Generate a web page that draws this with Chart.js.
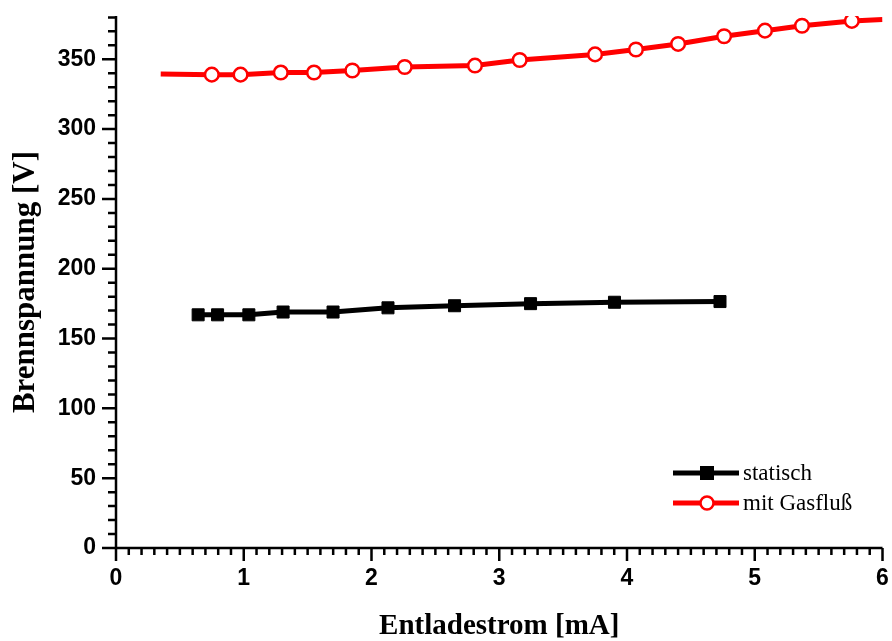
<!DOCTYPE html>
<html>
<head>
<meta charset="utf-8">
<script src="https://cdn.jsdelivr.net/npm/chart.js@4/dist/chart.umd.min.js"></script>
<style>
  body { margin: 0; background: #fff; }
</style>
</head>
<body>
<canvas id="myChart" width="892" height="641"></canvas>
<script>
// Entladestrom [mA] / Brennspannung [V]
const staticCurrent = [0.643, 0.795, 1.04, 1.308, 1.699, 2.129, 2.65, 3.245, 3.902, 4.728];
const staticVoltage = [167, 167, 167, 169, 169, 172, 173.5, 175, 176, 176.5];

const flowCurrent = [0.35, 0.75, 0.975, 1.29, 1.55, 1.85, 2.26, 2.81, 3.16, 3.75, 4.07, 4.4, 4.76, 5.08, 5.37, 5.76, 6.0];
const flowVoltage = [339.5, 339, 339, 340.5, 340.5, 342, 344.5, 345.5, 349.5, 353.5, 357, 361, 366.5, 370.5, 374, 377.5, 378.5];

const xTicks = [0, 1, 2, 3, 4, 5, 6];
const yTicks = [0, 50, 100, 150, 200, 250, 300, 350];

const toPoints = (xs, ys) => xs.map((v, i) => ({x: v, y: ys[i]}));

// minor ticks + axis lines + legend, drawn like the Origin plot
const originStyle = {
    id: 'originStyle',
    afterDraw(chart) {
        const {ctx, chartArea: a, scales: {x, y}} = chart;
        ctx.save();
        ctx.strokeStyle = '#000';
        ctx.lineWidth = 2.5;
        ctx.beginPath();
        ctx.moveTo(a.left, a.top);
        ctx.lineTo(a.left, a.bottom);
        ctx.lineTo(a.right, a.bottom);
        for (let i = 0; i <= 60; i++) {
            const px = x.getPixelForValue(i / 10);
            ctx.moveTo(px, a.bottom);
            ctx.lineTo(px, a.bottom + (i % 10 === 0 ? 13 : 7));
        }
        for (let v = 0; v <= 380; v += 10) {
            const py = y.getPixelForValue(v);
            ctx.moveTo(a.left, py);
            ctx.lineTo(a.left - (v % 50 === 0 ? 14 : 8), py);
        }
        ctx.stroke();

        // legend
        const lx = 673, rows = [473, 503];
        ctx.font = '23px "Liberation Serif"';
        ctx.textBaseline = 'middle';
        chart.data.datasets.forEach((ds, i) => {
            const ly = rows[i];
            ctx.strokeStyle = ds.borderColor;
            ctx.lineWidth = 5;
            ctx.beginPath();
            ctx.moveTo(lx, ly);
            ctx.lineTo(lx + 66, ly);
            ctx.stroke();
            const cx = lx + 34;
            if (ds.pointStyle === 'rect') {
                ctx.fillStyle = ds.pointBackgroundColor;
                ctx.fillRect(cx - 7, ly - 7, 14, 14);
            } else {
                ctx.fillStyle = '#fff';
                ctx.lineWidth = 2.5;
                ctx.beginPath();
                ctx.arc(cx, ly, 6.5, 0, Math.PI * 2);
                ctx.fill();
                ctx.stroke();
            }
            ctx.fillStyle = '#000';
            ctx.fillText(ds.label, lx + 70, ly + 1);
        });
        ctx.restore();
    }
};

new Chart(document.getElementById('myChart'), {
    type: 'scatter',
    data: {
        datasets: [{
            label: 'statisch',
            data: toPoints(staticCurrent, staticVoltage),
            showLine: true,
            borderColor: '#000',
            borderWidth: 5,
            pointStyle: 'rect',
            pointRadius: 8.5,
            pointBorderWidth: 1,
            pointBackgroundColor: '#000',
            pointBorderColor: '#000',
        }, {
            label: 'mit Gasfluß',
            data: toPoints(flowCurrent, flowVoltage),
            showLine: true,
            borderColor: '#ff0000',
            borderWidth: 5,
            pointStyle: 'circle',
            pointRadius: flowCurrent.map((v, i) => (i === 0 || i === flowCurrent.length - 1) ? 0 : 6.8),
            pointBorderWidth: 2.5,
            pointBackgroundColor: '#fff',
            pointBorderColor: '#ff0000',
        }]
    },
    options: {
        responsive: false,
        animation: false,
        layout: {
            padding: {left: 0, right: 9, top: 16, bottom: 0}
        },
        scales: {
            x: {
                type: 'linear',
                min: 0,
                max: 6,
                afterFit: s => { s.height = 93; s.paddingLeft = 0; s.paddingRight = 0; },
                afterBuildTicks: s => { s.ticks = xTicks.map(v => ({value: v})); },
                grid: {display: false, drawTicks: false},
                border: {display: false},
                ticks: {
                    color: '#000',
                    padding: 17,
                    maxRotation: 0,
                    font: {family: 'Liberation Sans', weight: 'bold', size: 23}
                },
                title: {
                    display: true,
                    text: 'Entladestrom [mA]',
                    color: '#000',
                    padding: 0,
                    font: {family: 'Liberation Serif', weight: 'bold', size: 29, lineHeight: 1}
                }
            },
            y: {
                min: 0,
                max: 381,
                afterFit: s => { s.width = 116; s.paddingTop = 0; s.paddingBottom = 0; },
                afterBuildTicks: s => { s.ticks = yTicks.map(v => ({value: v})); },
                grid: {display: false, drawTicks: false},
                border: {display: false},
                ticks: {
                    color: '#000',
                    padding: 20,
                    font: {family: 'Liberation Sans', weight: 'bold', size: 23}
                },
                title: {
                    display: true,
                    text: 'Brennspannung [V]',
                    color: '#000',
                    padding: {top: 10, bottom: 0},
                    font: {family: 'Liberation Serif', weight: 'bold', size: 31, lineHeight: 1}
                }
            }
        },
        plugins: {
            legend: {display: false},
            tooltip: {enabled: false}
        }
    },
    plugins: [originStyle]
});
</script>
</body>
</html>
